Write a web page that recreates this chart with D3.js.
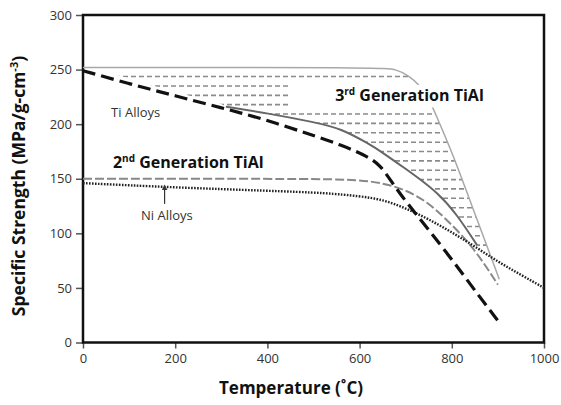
<!DOCTYPE html>
<html>
<head>
<meta charset="utf-8">
<script src="https://cdn.jsdelivr.net/npm/d3@7"></script>
<style>
  html, body { margin: 0; padding: 0; background: #fff; }
  svg { display: block; font-family: "Open Sans", "DejaVu Sans", sans-serif; }
</style>
</head>
<body>
<svg id="chart" width="561" height="405"></svg>
<script>
// ---------- data (temperature °C, specific strength MPa/g-cm^-3) ----------
const xTicks = [0, 200, 400, 600, 800, 1000];
const yTicks = [0, 50, 100, 150, 200, 250, 300];

const tiAlloys = [[0,249],[100,237],[200,226],[300,215],[390,205],[490,191],[560,181],[620,170],[645,162],[665,150],[690,135],[716,121],[790,82],[860,42],[900,20]];
const niAlloys = [[0,146],[200,142],[400,139],[530,137],[600,134],[650,131],[700,123],[750,113],[800,101],[850,88],[900,74],[950,62],[1000,50]];
const gen2TiAl = [[0,150],[500,150],[600,149],[650,146],[700,140],[750,128],[790,112],[846,88],[900,53]];
const gen3Upper = [[0,252],[650,252],[680,250],[705,245],[730,236],[750,224],[770,204],[800,175],[850,118],[903,58]];
const gen3Lower = [[310,216],[400,210],[500,202],[560,196],[620,182],[650,174],[700,159],[720,153],[770,137],[810,118],[855,89]];
const hatchEdge = [[82,244.2],[150,235.5],[225,226.7],[300,218.5]];
const hatchLevels = [243.6,235,226.4,217.9,209.3,200.7,192.1,183.5,175,166.4,157.8,149.2,140.7,132.1,123.5,114.9,106.3,97.8,89.2];

const labels = [
  {text: "Ti Alloys", T: 61, S: 206.6, size: 13, anchor: "start"},
  {text: "Ni Alloys", T: 182, S: 112, size: 13, anchor: "middle"}
];
const genLabels = [
  {base: "2", sup: "nd", rest: " Generation TiAl", T: 65, S: 159.8},
  {base: "3", sup: "rd", rest: " Generation TiAl", T: 547, S: 221}
];
const niArrow = {T: 177, S0: 127, S1: 142};
const gen3LabelBox = {T0: 449, T1: 895, S0: 215.3, S1: 236};

// ---------- layout ----------
const svg = d3.select("#chart");
const margin = {left: 83, top: 15, right: 17, bottom: 62.5};
const W = 561, H = 405;
const x = d3.scaleLinear().domain([0, 1000]).range([margin.left, W - margin.right]);
const y = d3.scaleLinear().domain([0, 300]).range([H - margin.bottom, margin.top]);

const line = d3.line().x(d => x(d[0])).y(d => y(d[1])).curve(d3.curveBasis);

// hatch clip region
const clipPoly = gen3Upper.concat(hatchEdge.concat(gen3Lower).slice().reverse());
svg.append("defs").append("clipPath").attr("id", "hatchClip")
  .append("path")
  .attr("d", d3.line().x(d => x(d[0])).y(d => y(d[1])).curve(d3.curveLinear)(clipPoly) + "Z");

svg.append("g").attr("clip-path", "url(#hatchClip)")
  .selectAll("line").data(hatchLevels).join("line")
  .attr("x1", x(0)).attr("x2", x(1000))
  .attr("y1", d => y(d)).attr("y2", d => y(d))
  .attr("stroke", "#8a8a8a").attr("stroke-width", 1.6)
  .attr("stroke-dasharray", "5,3");

// axes
const xAxis = d3.axisBottom(x).tickValues(xTicks).tickFormat(d3.format("d")).tickSize(6).tickPadding(5);
const yAxis = d3.axisLeft(y).tickValues(yTicks).tickFormat(d3.format("d")).tickSize(7).tickPadding(4);

const gx = svg.append("g").attr("transform", `translate(0,${y(0)})`).call(xAxis);
const gy = svg.append("g").attr("transform", `translate(${x(0)},0)`).call(yAxis);
[gx, gy].forEach(g => {
  g.select(".domain").remove();
  g.selectAll(".tick line").attr("stroke", "#555").attr("stroke-width", 1.5);
  g.selectAll(".tick text").attr("fill", "#333").style("font-size", "13px")
    .style("font-family", "'Open Sans', sans-serif");
});

// frame
svg.append("rect")
  .attr("x", x(0)).attr("y", y(300))
  .attr("width", x(1000) - x(0)).attr("height", y(0) - y(300))
  .attr("fill", "none").attr("stroke", "#111").attr("stroke-width", 2.5);

// curves
svg.append("path").datum(gen3Upper).attr("d", line)
  .attr("fill", "none").attr("stroke", "#a8a8a8").attr("stroke-width", 1.5);

// white box behind 3rd gen label
svg.append("rect")
  .attr("x", x(gen3LabelBox.T0)).attr("y", y(gen3LabelBox.S1))
  .attr("width", x(gen3LabelBox.T1) - x(gen3LabelBox.T0))
  .attr("height", y(gen3LabelBox.S0) - y(gen3LabelBox.S1))
  .attr("fill", "#fff");

svg.append("path").datum(gen3Lower).attr("d", line)
  .attr("fill", "none").attr("stroke", "#666").attr("stroke-width", 2);

svg.append("path").datum(gen2TiAl).attr("d", line)
  .attr("fill", "none").attr("stroke", "#888").attr("stroke-width", 2)
  .attr("stroke-dasharray", "9,3");

svg.append("path").datum(niAlloys).attr("d", line)
  .attr("fill", "none").attr("stroke", "#222").attr("stroke-width", 2.4)
  .attr("stroke-dasharray", "1.6,1.4");

svg.append("path").datum(tiAlloys).attr("d", line)
  .attr("fill", "none").attr("stroke", "#111").attr("stroke-width", 3.2)
  .attr("stroke-dasharray", "13,6");

// labels
svg.selectAll("text.lbl").data(labels).join("text").attr("class", "lbl")
  .attr("x", d => x(d.T)).attr("y", d => y(d.S))
  .attr("text-anchor", d => d.anchor)
  .style("font-size", d => d.size + "px")
  .attr("fill", "#333")
  .text(d => d.text);

const gl = svg.selectAll("text.gen").data(genLabels).join("text").attr("class", "gen")
  .attr("x", d => x(d.T)).attr("y", d => y(d.S))
  .style("font-size", "16px").style("font-weight", "bold").attr("fill", "#111");
gl.append("tspan").text(d => d.base);
gl.append("tspan").attr("dy", -6).style("font-size", "10px").text(d => d.sup);
gl.append("tspan").attr("dy", 6).text(d => d.rest);

// Ni arrow
svg.append("defs").append("marker").attr("id", "arrowhead")
  .attr("viewBox", "0 0 10 10").attr("refX", 5).attr("refY", 5)
  .attr("markerWidth", 5).attr("markerHeight", 5).attr("orient", "auto")
  .append("path").attr("d", "M0,0 L10,5 L0,10 Z").attr("fill", "#333");
svg.append("line")
  .attr("x1", x(niArrow.T)).attr("x2", x(niArrow.T))
  .attr("y1", y(niArrow.S0)).attr("y2", y(niArrow.S1))
  .attr("stroke", "#333").attr("stroke-width", 1.2)
  .attr("marker-end", "url(#arrowhead)");

// axis titles
svg.append("text")
  .attr("x", 291).attr("y", 394).attr("text-anchor", "middle")
  .style("font-size", "17px").style("font-weight", "bold").attr("fill", "#111")
  .text("Temperature (˚C)");

const yt = svg.append("text")
  .attr("transform", "translate(25,186) rotate(-90)").attr("text-anchor", "middle")
  .style("font-size", "17.5px").style("font-weight", "bold").attr("fill", "#111");
yt.append("tspan").text("Specific Strength (MPa/g-cm");
yt.append("tspan").attr("dy", -7).style("font-size", "11px").text("-3");
yt.append("tspan").attr("dy", 7).text(")");
</script>
</body>
</html>
